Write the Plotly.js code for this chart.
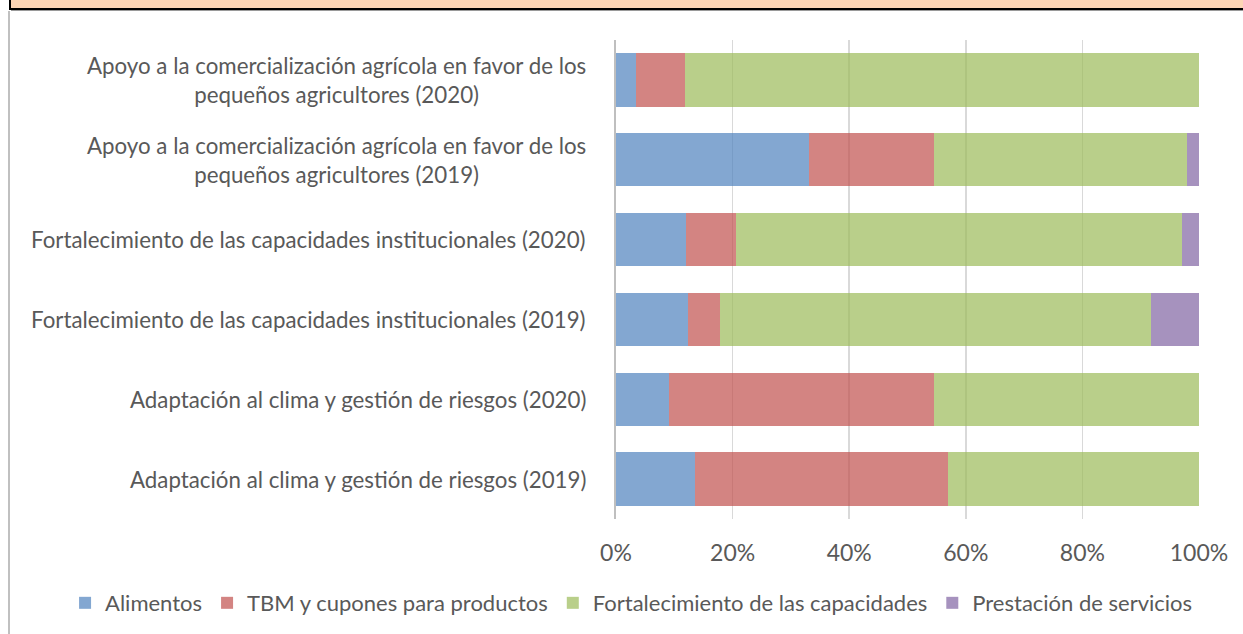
<!DOCTYPE html>
<html>
<head>
<meta charset="utf-8">
<script src="https://cdn.plot.ly/plotly-3.0.1.min.js"></script>
<style>
  html, body { margin:0; padding:0; background:#ffffff; }
  #wrap { position:relative; width:1243px; height:634px; overflow:hidden; }
  #chart { position:absolute; left:0; top:0; width:1243px; height:634px; }
  #banner { position:absolute; left:9px; top:0; width:1240px; height:8px; background:#fcd5b5;
            border-left:2px solid #000; border-bottom:2px solid #000; z-index:5; }
  #shadow { position:absolute; left:11px; top:10px; width:1240px; height:1px; background:#9a9a9a; z-index:5; }
  #leftline { position:absolute; left:8px; top:11px; width:2px; height:630px; background:#c0c0c0; z-index:5; }
</style>
</head>
<body>
<div id="wrap">
  <div id="chart"></div>
  <div id="banner"></div>
  <div id="shadow"></div>
  <div id="leftline"></div>
</div>
<script>
// Categories, bottom to top
const categories = [
  "Adaptación al clima y gestión de riesgos (2019)",
  "Adaptación al clima y gestión de riesgos (2020)",
  "Fortalecimiento de las capacidades institucionales (2019)",
  "Fortalecimiento de las capacidades institucionales (2020)",
  "Apoyo a la comercialización agrícola en favor de los<br>pequeños agricultores (2019)",
  "Apoyo a la comercialización agrícola en favor de los<br>pequeños agricultores (2020)"
];
const seriesNames = ["Alimentos", "TBM y cupones para productos", "Fortalecimiento de las capacidades", "Prestación de servicios"];
const alimentos      = [13.5,  9.1, 12.4, 12.0, 33.1,  3.5];
const tbm            = [43.5, 45.4,  5.4,  8.5, 21.4,  8.3];
const fortalecimiento= [43.0, 45.5, 74.0, 76.6, 43.4, 88.2];
const prestacion     = [ 0.0,  0.0,  8.2,  2.9,  2.1,  0.0];
const xTickVals = [0, 20, 40, 60, 80, 100];
const xTickText = ["0%", "20%", "40%", "60%", "80%", "100%"];

const colors = ["rgba(79,129,189,0.7)", "rgba(192,80,77,0.7)", "rgba(155,187,89,0.7)", "rgba(128,100,162,0.7)"];
const values = [alimentos, tbm, fortalecimiento, prestacion];
const FONT = "Lato, 'Open Sans', sans-serif";

const traces = values.map((v, i) => ({
  type: "bar",
  orientation: "h",
  name: seriesNames[i],
  y: categories,
  x: v,
  marker: { color: colors[i], line: { width: 0 } },
  hoverinfo: "x+name"
}));

const annotations = categories.map(c => ({
  xref: "paper", yref: "y", x: 0, y: c,
  xanchor: "right", yanchor: "middle", xshift: -28,
  align: "center", showarrow: false,
  text: c,
  font: { family: FONT, size: 22.3, color: "#595959" }
}));

const layout = {
  width: 1243, height: 634,
  margin: { l: 616, r: 44, t: 40, b: 115, pad: 0, autoexpand: false },
  paper_bgcolor: "#ffffff", plot_bgcolor: "#ffffff",
  barmode: "stack", bargap: 0.33,
  font: { family: FONT, color: "#595959" },
  xaxis: {
    range: [0, 100], tickvals: xTickVals, ticktext: xTickText,
    showgrid: true, gridcolor: "#d9d9d9", gridwidth: 1.5,
    zeroline: false, showline: false, ticks: "",
    ticklabelstandoff: 18,
    tickfont: { family: FONT, size: 23, color: "#595959" }
  },
  yaxis: {
    type: "category", categoryorder: "array", categoryarray: categories,
    showticklabels: false, showgrid: false, zeroline: false,
    showline: true, linecolor: "#bfbfbf", linewidth: 2, ticks: ""
  },
  legend: {
    orientation: "h", xref: "paper", yref: "paper",
    x: -0.945, y: -0.1754, xanchor: "left", yanchor: "middle",
    bgcolor: "rgba(0,0,0,0)",
    font: { family: FONT, size: 22, color: "#595959" },
    traceorder: "normal", itemwidth: 30
  },
  annotations: annotations,
  showlegend: true
};

Plotly.newPlot("chart", traces, layout, { staticPlot: true, displayModeBar: false });
</script>
</body>
</html>
